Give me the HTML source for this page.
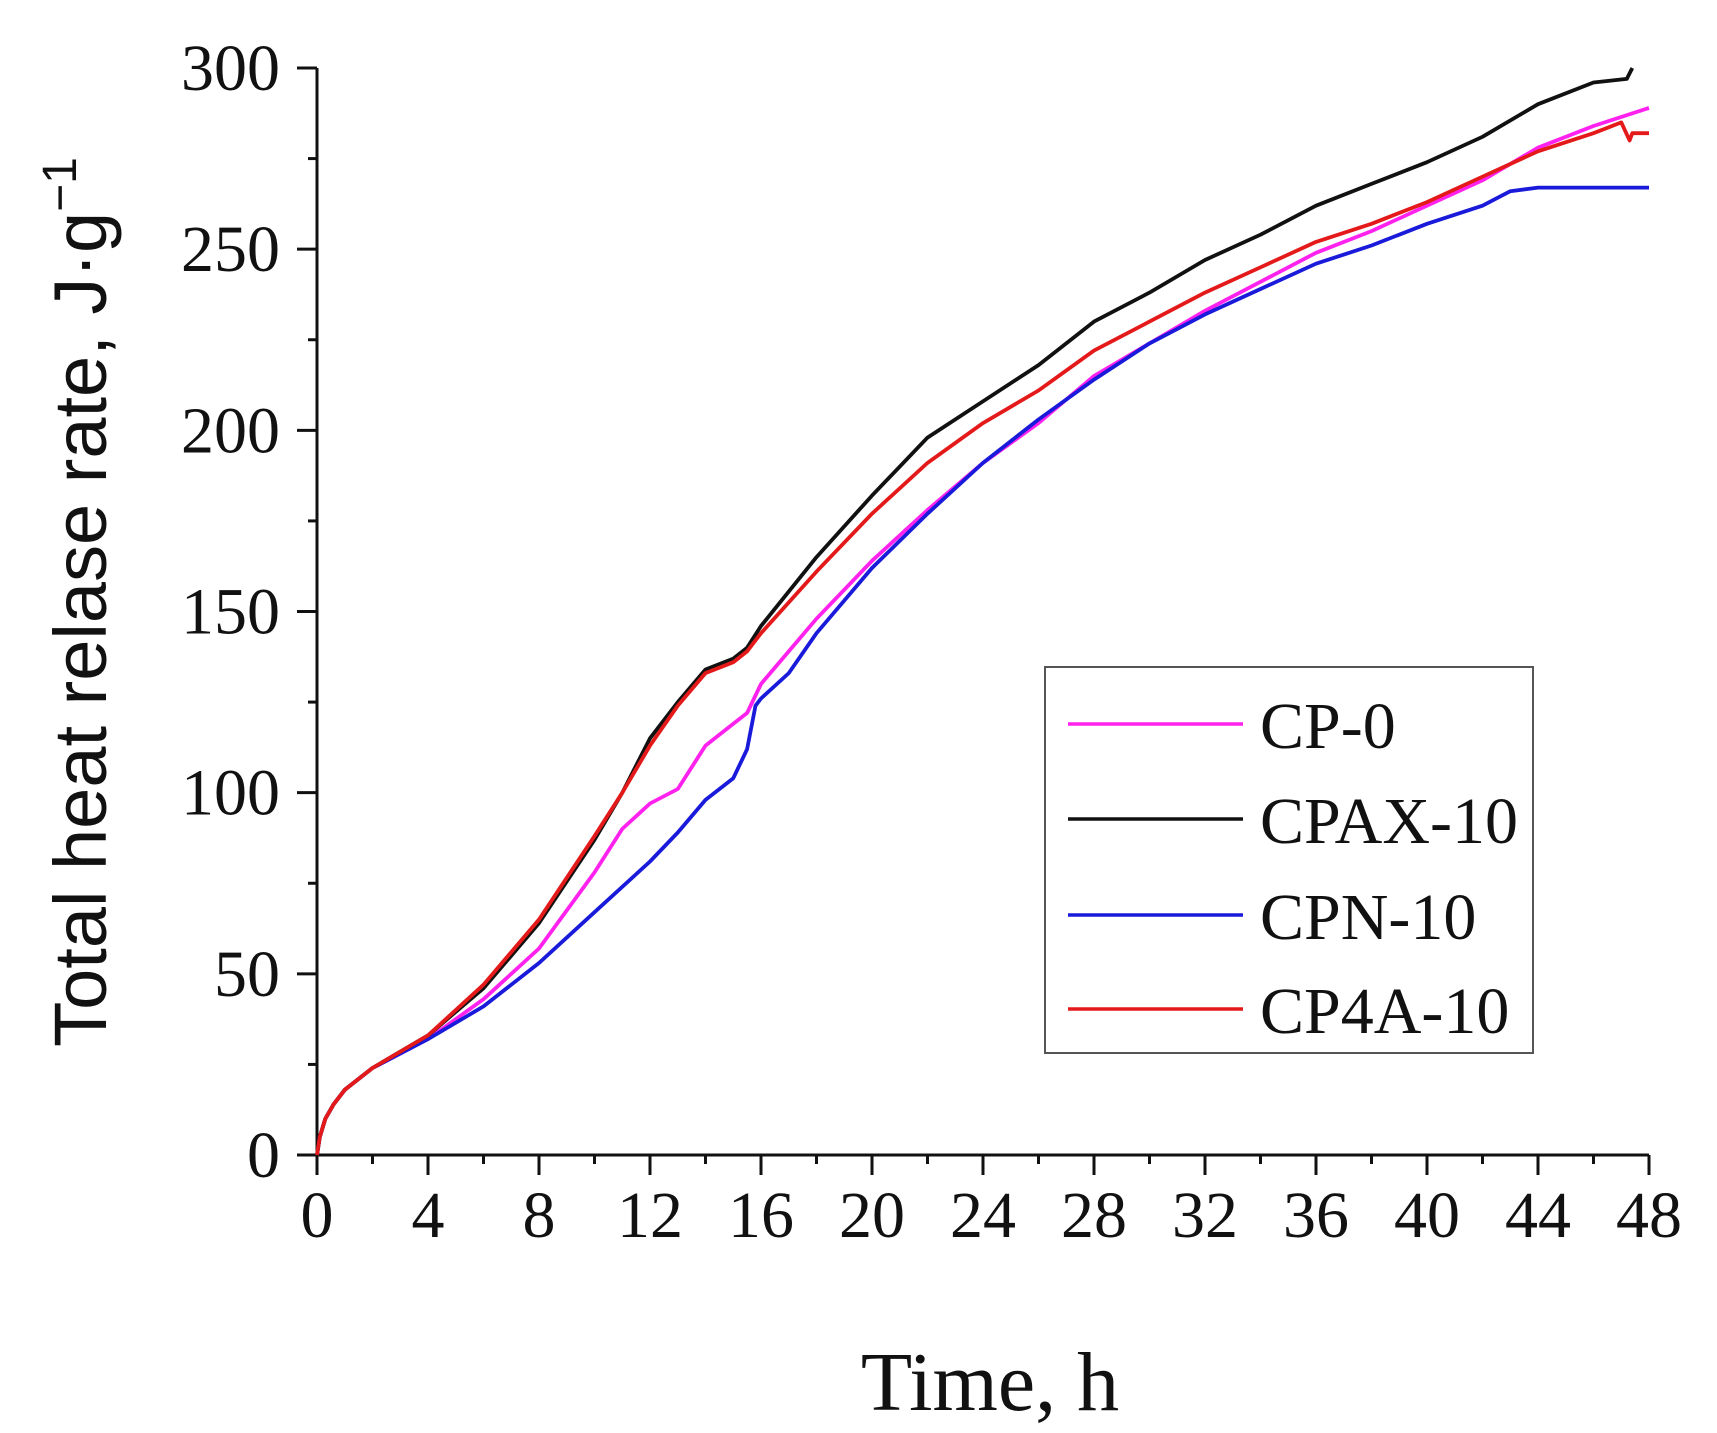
<!DOCTYPE html>
<html><head><meta charset="utf-8"><style>
html,body{margin:0;padding:0;background:#fff;}
svg{display:block;}
text{font-family:"Liberation Serif",serif;fill:#111;}
</style></head><body>
<svg id="chart" width="1717" height="1433" viewBox="0 0 1717 1433" xmlns="http://www.w3.org/2000/svg">
<g id="axes"></g>
<g id="series"></g>
<text x="990" y="1410" text-anchor="middle" font-size="84">Time, h</text>
<text transform="translate(106,602) rotate(-90)" text-anchor="middle" font-size="74" style="font-family:'Liberation Sans',sans-serif">Total heat relase rate, J·g<tspan dy="-30" font-size="48">−1</tspan></text>
<g>
<rect x="1045" y="667" width="488" height="386" fill="#fff" stroke="#555" stroke-width="2"/>
<g id="legendItems"></g>
</g>
</svg>
<script>
const xTicks=[0,4,8,12,16,20,24,28,32,36,40,44,48];
const yTicks=[0,50,100,150,200,250,300];
const seriesNames=["CP-0","CPAX-10","CPN-10","CP4A-10"];
const seriesColors=["#ff22ee","#111111","#1a1adb","#e41a1a"];
const tCP0=[0,0.1,0.3,0.6,1,2,4,6,8,10,11,12,13,14,15,15.5,16,18,20,22,24,26,28,30,32,34,36,38,40,42,44,46,48];
const vCP0=[0,5,10,14,18,24,32,43,57,78,90,97,101,113,119,122,130,148,164,178,191,202,215,224,233,241,249,255,262,269,278,284,289];
const tCPAX=[0,0.1,0.3,0.6,1,2,4,6,8,10,11,12,13,14,15,15.5,16,18,20,22,24,26,28,30,32,34,36,38,40,42,44,46,47.2,47.4];
const vCPAX=[0,5,10,14,18,24,33,46,64,87,100,115,125,134,137,140,146,165,182,198,208,218,230,238,247,254,262,268,274,281,290,296,297,300];
const tCPN=[0,0.1,0.3,0.6,1,2,4,6,8,10,12,13,14,15,15.5,15.8,16,17,18,20,22,24,26,28,30,32,34,36,38,40,42,43,44,48];
const vCPN=[0,5,10,14,18,24,32,41,53,67,81,89,98,104,112,124,126,133,144,162,177,191,203,214,224,232,239,246,251,257,262,266,267,267];
const tCP4A=[0,0.1,0.3,0.6,1,2,4,6,8,10,11,12,13,14,15,15.5,16,18,20,22,24,26,28,30,32,34,36,38,40,42,44,46,47,47.3,47.4,48];
const vCP4A=[0,5,10,14,18,24,33,47,65,88,100,113,124,133,136,139,144,161,177,191,202,211,222,230,238,245,252,257,263,270,277,282,285,280,282,282];
const X0=317,X1=1649,Y0=1155,Y1=68;
const sx=t=>X0+(t-0)/(48-0)*(X1-X0);
const sy=v=>Y0-(v-0)/(300-0)*(Y0-Y1);
const NS="http://www.w3.org/2000/svg";
function mk(tag,parent){const e=document.createElementNS(NS,tag);parent.appendChild(e);return e;}
const axes=document.getElementById('axes');
let l=mk('line',axes);l.setAttribute('x1',X0);l.setAttribute('x2',X1);l.setAttribute('y1',Y0);l.setAttribute('y2',Y0);l.setAttribute('stroke','#111');l.setAttribute('stroke-width',3);


l=mk('line',axes);l.setAttribute('x1',X0);l.setAttribute('x2',X0);l.setAttribute('y1',Y0);l.setAttribute('y2',Y1);l.setAttribute('stroke','#111');l.setAttribute('stroke-width',3);


for(let t=0;t<=48;t+=2){const major=t%4===0;const e=mk('line',axes);e.setAttribute('x1',sx(t));e.setAttribute('x2',sx(t));e.setAttribute('y1',Y0);e.setAttribute('y2',Y0+(major?20:9));e.setAttribute('stroke','#111');e.setAttribute('stroke-width',3);

}
for(let v=0;v<=300;v+=25){const major=v%50===0;const e=mk('line',axes);e.setAttribute('x1',X0);e.setAttribute('x2',X0-(major?20:9));e.setAttribute('y1',sy(v));e.setAttribute('y2',sy(v));e.setAttribute('stroke','#111');e.setAttribute('stroke-width',3);

}
xTicks.forEach(t=>{const e=mk('text',axes);e.setAttribute('x',sx(t));e.setAttribute('y',1237);e.setAttribute('text-anchor','middle');e.setAttribute('font-size',66);e.textContent=t;

});
yTicks.forEach(v=>{const e=mk('text',axes);e.setAttribute('x',280);e.setAttribute('y',sy(v)+22);e.setAttribute('text-anchor','end');e.setAttribute('font-size',66);e.textContent=v;

});
const allT=[tCP0,tCPAX,tCPN,tCP4A],allV=[vCP0,vCPAX,vCPN,vCP4A];
const sg=document.getElementById('series');
[0,2,1,3].forEach(i=>{const p=mk('polyline',sg);p.setAttribute('points',allT[i].map((t,k)=>sx(t).toFixed(1)+','+sy(allV[i][k]).toFixed(1)).join(' '));p.setAttribute('fill','none');p.setAttribute('stroke',seriesColors[i]);p.setAttribute('stroke-width',3.8);p.setAttribute('stroke-linejoin','round');

});
const li=document.getElementById('legendItems');
const ly=[724,819,915,1009];
seriesNames.forEach((n,i)=>{const ln=mk('line',li);ln.setAttribute('x1',1068);ln.setAttribute('x2',1243);ln.setAttribute('y1',ly[i]);ln.setAttribute('y2',ly[i]);ln.setAttribute('stroke',seriesColors[i]);ln.setAttribute('stroke-width',3.5);


const tx=mk('text',li);tx.setAttribute('x',1260);tx.setAttribute('y',ly[i]+24);tx.setAttribute('font-size',66);tx.textContent=n;

});
</script>
</body></html>
